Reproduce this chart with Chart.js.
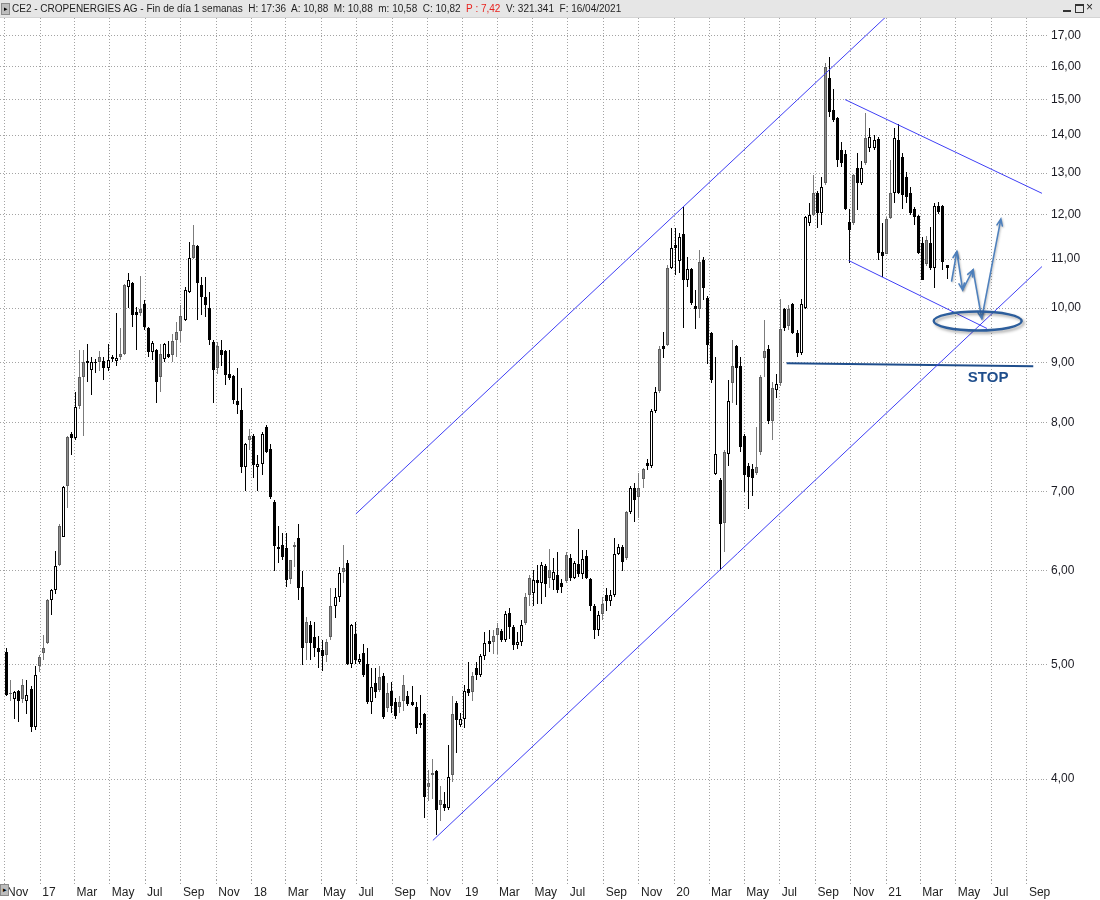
<!DOCTYPE html>
<html>
<head>
<meta charset="utf-8">
<script src="https://cdn.jsdelivr.net/npm/chart.js@4.4.1/dist/chart.umd.min.js"></script>
<style>
    html, body { margin: 0; padding: 0; background: #fff; }
    #wrap { position: relative; width: 1100px; height: 900px; overflow: hidden; font-family: "Liberation Sans", Arial, sans-serif; }
    #chart { position: absolute; left: 0; top: 0; }
    #hdr { position: absolute; left: 0; top: 0; width: 1100px; height: 17px; background: #e6e6e6; border-bottom: 1px solid #d4d4d4;
           font-size: 10px; line-height: 17px; color: #1e1e1e; white-space: pre; }
    #hdr .txt { position: absolute; left: 12px; top: 0; }
    #hdr .red { color: #e8231f; }
    .ico { position: absolute; width: 7px; height: 10px; background: #bdbdbd; border: 1px solid #8a8a8a; font-size: 7px; line-height: 10px; text-align: center; color: #000; }
    .btn { position: absolute; top: 4px; width: 8px; height: 8px; }
</style>
</head>
<body>
<div id="wrap">
    <canvas id="chart" width="1100" height="900"></canvas>
    <div id="hdr">
        <span class="ico" style="left:1px;top:3px;">&#9656;</span>
        <span class="txt">CE2 - CROPENERGIES AG - Fin de día 1 semanas  H: 17:36  A: 10,88  M: 10,88  m: 10,58  C: 10,82  <span class="red">P : 7,42</span>  V: 321.341  F: 16/04/2021</span>
        <span class="btn" style="left:1063px;border-bottom:2px solid #333;height:6px;"></span>
        <span class="btn" style="left:1075px;border:1px solid #333;border-top-width:2px;width:7px;height:6px;"></span>
        <span class="btn" style="left:1086px;font-size:12px;line-height:8px;top:3px;color:#222;">&#215;</span>
    </div>
    <span class="ico" style="left:0;top:884px;">&#9656;</span>
</div>
<script>
// --- weekly candles, first week ending 04/11/2016 ---
const firstWeek = '2016-11-04';

const opens = [
    5.12,4.72,4.67,4.75,4.67,4.66,4.77,4.43,4.98,5.11,
    5.21,5.67,5.78,6.07,6.41,7.07,7.83,7.76,8.26,8.75,
    8.98,8.86,8.98,9.01,9.02,8.90,9.10,9.02,9.09,9.15,
    10.42,10.50,9.92,9.90,10.08,9.62,9.18,9.22,8.74,9.05,
    9.15,9.12,9.40,9.56,9.77,10.32,11.03,11.28,10.46,10.22,
    10.00,9.36,8.90,9.22,9.20,8.80,8.76,8.34,8.20,7.34,
    7.74,7.80,7.34,7.38,7.94,7.60,6.86,6.28,6.31,6.27,
    5.90,6.28,6.39,5.81,5.21,5.40,5.27,5.16,5.14,5.09,
    5.27,5.60,5.70,5.98,6.09,5.00,5.30,5.02,5.11,5.00,
    4.65,4.82,4.76,4.89,4.59,4.75,4.65,4.60,4.66,4.70,
    4.65,4.60,4.46,4.54,3.94,4.03,4.06,3.80,3.81,3.78,
    4.03,4.64,4.44,4.50,4.77,4.74,4.96,4.90,5.08,5.23,
    5.22,5.29,5.34,5.24,5.53,5.38,5.19,5.22,5.42,5.72,
    5.74,5.89,5.86,6.06,5.91,5.89,5.95,5.86,5.88,6.15,
    5.92,6.08,5.96,6.17,5.90,5.60,5.35,5.52,5.72,5.66,
    5.72,6.20,6.28,6.15,6.72,7.04,6.93,7.17,7.40,7.35,
    8.18,8.51,9.29,9.31,10.81,11.30,10.96,11.56,10.56,10.79,
    10.04,9.99,10.98,10.20,9.53,7.24,7.15,6.58,7.53,8.65,
    9.28,8.93,7.80,7.35,7.31,7.26,7.56,9.08,9.23,8.03,
    8.52,8.65,9.98,9.66,10.08,9.53,9.17,10.00,11.80,11.99,
    12.51,12.03,12.75,15.64,14.70,14.48,13.60,13.50,11.83,11.80,
    13.13,12.75,13.26,13.65,13.65,13.89,11.16,11.10,11.91,12.51,
    13.87,13.42,12.90,12.51,12.12,11.95,11.35,10.90,11.35,10.81,
    12.20,12.20,10.88
];

const highs = [
    5.16,4.85,4.75,4.76,4.86,4.85,4.79,4.98,5.09,5.29,
    5.68,5.79,6.23,6.57,7.08,7.80,7.85,8.50,9.22,9.22,
    9.33,9.10,9.05,9.20,9.10,9.32,9.12,9.90,9.62,10.48,
    10.71,10.52,10.02,10.64,10.16,9.64,9.37,9.24,9.32,9.34,
    9.38,9.50,9.74,10.06,10.42,11.37,11.76,11.30,10.62,10.62,
    10.32,9.40,9.36,9.40,9.22,9.22,8.78,8.90,8.56,7.69,
    7.90,7.82,7.52,7.85,7.96,7.67,6.88,6.55,6.46,6.46,
    6.13,6.34,6.57,5.99,5.48,5.44,5.43,5.28,5.24,5.25,
    5.80,5.80,6.04,6.31,6.12,5.41,5.43,5.10,5.20,5.16,
    4.96,4.96,4.98,4.92,4.82,4.83,4.68,4.70,4.90,4.75,
    4.79,4.65,4.71,4.55,4.07,4.16,4.07,3.95,3.90,4.27,
    4.70,4.66,4.55,4.80,5.02,4.93,5.02,5.10,5.33,5.35,
    5.35,5.42,5.36,5.55,5.58,5.40,5.32,5.45,5.75,5.95,
    6.01,6.07,6.10,6.08,6.26,6.15,6.22,5.90,6.22,6.20,
    6.11,6.50,6.25,6.25,5.92,5.62,5.55,5.70,5.80,5.78,
    6.39,6.32,6.31,6.74,7.08,7.12,7.26,7.33,7.45,8.22,
    8.58,9.28,9.55,10.88,11.68,11.68,11.58,12.17,11.05,10.82,
    10.36,11.19,11.05,10.24,9.55,9.10,7.19,7.58,8.69,9.40,
    9.30,9.10,7.82,7.40,7.38,7.94,8.78,9.77,9.31,8.66,
    8.80,10.18,10.00,10.05,10.10,9.58,10.18,11.95,12.26,12.95,
    12.55,12.90,16.10,16.30,15.30,14.50,13.80,13.60,12.13,12.97,
    13.52,13.30,14.61,14.20,14.00,13.95,11.80,11.93,13.34,14.20,
    14.30,13.52,13.02,12.66,12.17,11.98,11.48,11.50,11.70,12.27,
    12.30,12.22,10.88
];

const lows = [
    4.70,4.66,4.50,4.47,4.64,4.54,4.38,4.40,4.93,5.04,
    5.20,5.50,5.73,6.05,6.40,6.78,7.52,7.74,8.22,7.80,
    8.66,8.45,8.82,8.85,8.70,8.85,9.00,8.93,9.04,9.12,
    10.00,9.64,9.22,9.85,9.58,9.10,9.04,8.31,8.49,9.00,
    9.08,9.00,9.10,9.36,9.75,10.30,11.00,9.77,9.86,9.82,
    9.30,8.31,8.80,8.93,8.61,8.70,8.30,8.14,7.26,7.00,
    7.58,7.18,7.00,7.22,7.55,6.90,5.99,6.09,6.12,5.81,
    5.85,6.04,5.67,4.99,5.04,5.04,5.07,4.96,4.94,5.02,
    5.24,5.47,5.65,5.86,4.99,4.96,5.00,5.00,4.88,4.63,
    4.54,4.68,4.74,4.50,4.56,4.55,4.50,4.55,4.57,4.61,
    4.61,4.37,4.42,3.71,3.83,3.85,3.59,3.69,3.76,3.77,
    3.98,4.21,4.43,4.42,4.70,4.66,4.85,4.88,5.04,5.12,
    5.10,5.10,5.22,5.22,5.25,5.14,5.15,5.18,5.40,5.60,
    5.60,5.62,5.62,5.70,5.80,5.78,5.75,5.75,5.86,5.88,
    5.90,5.93,5.90,5.90,5.55,5.25,5.28,5.45,5.55,5.60,
    5.70,6.18,5.99,6.12,6.70,6.60,6.65,7.04,7.30,7.33,
    8.15,8.48,9.07,9.28,10.78,10.67,10.71,9.62,10.42,10.05,
    9.60,9.80,10.16,8.97,8.65,7.22,6.01,6.22,7.36,8.31,
    8.28,7.56,6.99,6.77,6.94,7.22,7.52,8.75,7.98,7.74,
    8.40,8.60,9.56,9.58,9.50,9.10,9.13,9.98,11.73,11.95,
    11.68,11.75,12.70,14.50,14.35,13.15,13.15,12.10,10.92,11.75,
    12.10,12.70,13.20,13.55,13.60,10.98,10.62,11.10,11.88,12.27,
    12.48,12.13,12.27,11.98,11.75,11.10,10.56,10.85,10.77,10.40,
    12.00,10.77,10.58
];

const closes = [
    4.71,4.73,4.74,4.66,4.80,4.71,4.43,4.90,5.07,5.16,
    5.67,5.78,6.06,6.55,7.06,7.78,7.76,8.25,8.74,9.00,
    9.02,9.00,9.00,9.10,8.90,9.03,9.06,9.08,9.14,10.46,
    10.56,9.86,9.86,9.98,9.64,9.18,9.34,8.66,9.14,9.32,
    9.10,9.38,9.55,9.85,10.36,11.02,11.30,10.50,10.22,10.06,
    9.40,8.86,9.28,9.12,8.78,8.72,8.36,8.28,7.34,7.67,
    7.80,7.37,7.38,7.83,7.56,6.92,6.30,6.26,6.16,5.89,
    6.12,6.31,5.80,5.16,5.43,5.21,5.16,5.12,5.08,5.22,
    5.60,5.70,5.97,6.03,5.00,5.40,5.04,5.05,4.90,4.65,
    4.78,4.74,4.88,4.51,4.73,4.61,4.52,4.65,4.80,4.63,
    4.62,4.42,4.44,3.86,3.97,4.05,3.77,3.84,3.78,4.02,
    4.54,4.49,4.50,4.75,4.73,4.89,4.90,5.08,5.21,5.20,
    5.28,5.37,5.24,5.52,5.38,5.19,5.22,5.40,5.70,5.91,
    5.89,5.86,6.07,5.85,6.01,5.98,5.78,5.81,6.19,5.92,
    6.09,5.96,6.14,5.92,5.60,5.35,5.50,5.62,5.66,5.72,
    6.20,6.28,6.10,6.72,7.04,6.88,7.04,7.31,7.35,8.18,
    8.50,9.24,9.24,10.81,11.23,11.23,11.48,10.56,10.79,10.10,
    9.98,10.94,10.40,9.30,8.69,7.53,6.57,7.56,8.35,8.93,
    8.90,7.63,7.22,7.20,7.19,7.34,8.75,9.20,8.02,8.56,
    8.63,9.60,9.62,9.98,9.53,9.17,10.08,11.93,11.98,12.51,
    12.03,12.66,15.97,14.64,14.42,13.34,13.26,12.13,11.64,12.95,
    12.75,13.13,13.92,13.95,13.87,11.14,11.07,11.90,12.51,13.92,
    12.51,12.46,12.41,12.03,11.93,11.14,10.56,11.41,10.81,12.20,
    12.06,10.94,10.82
];

// --- axis ticks ---
const tickDates = [
    '2016-11-01','2017-01-01','2017-03-01','2017-05-01','2017-07-01','2017-09-01',
    '2017-11-01','2018-01-01','2018-03-01','2018-05-01','2018-07-01','2018-09-01',
    '2018-11-01','2019-01-01','2019-03-01','2019-05-01','2019-07-01','2019-09-01',
    '2019-11-01','2020-01-01','2020-03-01','2020-05-01','2020-07-01','2020-09-01',
    '2020-11-01','2021-01-01','2021-03-01','2021-05-01','2021-07-01','2021-09-01'
];
const tickLabels = [
    'Nov','17','Mar','May','Jul','Sep','Nov','18','Mar','May','Jul','Sep',
    'Nov','19','Mar','May','Jul','Sep','Nov','20','Mar','May','Jul','Sep',
    'Nov','21','Mar','May','Jul','Sep'
];
const priceTicks = [4, 5, 6, 7, 8, 9, 10, 11, 12, 13, 14, 15, 16, 17];

// --- hand drawn analysis (date, price) ---
const channelUpper = [['2018-06-30', 6.70], ['2021-01-02', 17.65]];
const channelLower = [['2018-11-10', 3.55], ['2021-09-27', 10.84]];
const wedgeUpper = [['2020-10-22', 15.00], ['2021-09-27', 12.50]];
const wedgeLower = [['2020-10-28', 10.97], ['2021-06-24', 9.61]];
const stopLine = [['2020-07-13', 8.98], ['2021-09-12', 8.93]];
const forecastPath = [['2021-04-24', 10.54], ['2021-05-03', 11.16], ['2021-05-13', 10.36],
                      ['2021-05-31', 10.77], ['2021-06-15', 9.80], ['2021-07-18', 11.89]];
const targetZone = ['2021-06-08', 9.75];
const stopLabel = ['STOP', '2021-06-26', 8.73];

const dayOf = s => Date.parse(s + 'T00:00:00Z') / 86400000;
const day0 = dayOf(firstWeek);
const weekX = i => day0 + 7 * i;

const GRID = '#a3a3a3';
const FONT = { family: '"Liberation Sans", Arial, sans-serif', size: 12 };

function candleKind(i) {
    if (closes[i] < opens[i]) return 'down';
    const prev = i > 0 ? closes[i - 1] : opens[i];
    return opens[i] > prev ? 'gray' : 'up';
}
const FILL = { up: '#ffffff', gray: '#8d8d8d', down: '#000000' };
const EDGE = { up: '#000000', gray: '#5e5e5e', down: '#000000' };
const WICK = { up: '#000000', gray: '#7c7c7c', down: '#000000' };

const wickData = opens.map((o, i) => ({ x: weekX(i), y: [lows[i], highs[i]] }));
const bodyData = opens.map((o, i) => ({ x: weekX(i), y: [Math.min(o, closes[i]), Math.max(o, closes[i])] }));

const lineSet = (pts, color, width) => ({
    type: 'line',
    data: pts.map(p => ({ x: dayOf(p[0]), y: p[1] })),
    borderColor: color,
    borderWidth: width,
    pointRadius: 0,
    fill: false,
    tension: 0,
    order: 0
});

// keep the thin candles on whole pixels so they stay sharp
const snapPlugin = {
    id: 'snap',
    beforeDatasetsDraw(chart) {
        chart.getSortedVisibleDatasetMetas().forEach(meta => {
            if (meta.type !== 'bar') return;
            meta.data.forEach(el => {
                el.x = Math.floor(el.x) + 0.5;
                el.y = Math.round(el.y);
                el.base = Math.round(el.base);
                if (el.base - el.y < 1) el.base = el.y + 1;
            });
        });
    }
};

// ellipse, arrows and the STOP note
const sketchPlugin = {
    id: 'sketch',
    afterDatasetsDraw(chart) {
        const { ctx, chartArea, scales: { x, y } } = chart;
        const px = p => [x.getPixelForValue(dayOf(p[0])), y.getPixelForValue(p[1])];
        ctx.save();
        ctx.beginPath();
        ctx.rect(chartArea.left, chartArea.top, chartArea.width, chartArea.height);
        ctx.clip();

        // forecast zig-zag
        ctx.shadowColor = 'rgba(0,0,0,0.25)';
        ctx.shadowBlur = 2;
        ctx.shadowOffsetX = 1;
        ctx.shadowOffsetY = 1;
        ctx.strokeStyle = '#4f81bd';
        ctx.lineWidth = 1.6;
        ctx.lineCap = 'round';
        const pts = forecastPath.map(px);
        for (let i = 1; i < pts.length; i++) {
            const [x0, y0] = pts[i - 1];
            const [x1, y1] = pts[i];
            ctx.beginPath();
            ctx.moveTo(x0, y0);
            ctx.lineTo(x1, y1);
            const a = Math.atan2(y1 - y0, x1 - x0);
            ctx.moveTo(x1 - 7 * Math.cos(a - 0.4), y1 - 7 * Math.sin(a - 0.4));
            ctx.lineTo(x1, y1);
            ctx.lineTo(x1 - 7 * Math.cos(a + 0.4), y1 - 7 * Math.sin(a + 0.4));
            ctx.stroke();
        }

        // target ellipse
        const [ex, ey] = px(targetZone);
        ctx.shadowColor = 'rgba(0,0,0,0.35)';
        ctx.shadowBlur = 3;
        ctx.shadowOffsetX = 2;
        ctx.shadowOffsetY = 2;
        ctx.strokeStyle = '#2d5e9c';
        ctx.lineWidth = 2.4;
        ctx.beginPath();
        ctx.ellipse(ex, ey, 44, 9.5, 0, 0, Math.PI * 2);
        ctx.stroke();

        // STOP
        ctx.shadowColor = 'transparent';
        const [sx, sy] = px([stopLabel[1], stopLabel[2]]);
        ctx.fillStyle = '#1f4e8c';
        ctx.font = 'bold 15px "Liberation Sans", Arial, sans-serif';
        ctx.textAlign = 'center';
        ctx.textBaseline = 'middle';
        ctx.fillText(stopLabel[0], sx, sy);
        ctx.restore();
    }
};

new Chart(document.getElementById('chart'), {
    type: 'bar',
    data: {
        datasets: [
            {
                data: wickData,
                grouped: false,
                barThickness: 1,
                borderWidth: 0,
                inflateAmount: 0,
                backgroundColor: c => WICK[candleKind(c.dataIndex)],
                order: 2
            },
            {
                data: bodyData,
                grouped: false,
                barThickness: 3,
                borderWidth: 1,
                borderSkipped: false,
                inflateAmount: 0,
                minBarLength: 1,
                backgroundColor: c => FILL[candleKind(c.dataIndex)],
                borderColor: c => EDGE[candleKind(c.dataIndex)],
                order: 1
            },
            lineSet(channelUpper, '#3f3ff5', 1),
            lineSet(channelLower, '#3f3ff5', 1),
            lineSet(wedgeUpper, '#3f3ff5', 1),
            lineSet(wedgeLower, '#3f3ff5', 1),
            lineSet(stopLine, '#1f4e8c', 2)
        ]
    },
    options: {
        responsive: false,
        animation: false,
        events: [],
        layout: { padding: { top: 18, left: 0, right: 0, bottom: 0 } },
        plugins: { legend: { display: false }, tooltip: { enabled: false } },
        scales: {
            x: {
                type: 'linear',
                min: day0 - 11.6,
                max: day0 + 1789.8,
                offset: false,
                grid: { color: GRID, offset: false, tickLength: 4, tickBorderDash: [1, 2] },
                border: { display: false, dash: [1, 2] },
                ticks: {
                    autoSkip: false, maxRotation: 0, align: 'start', labelOffset: 2, padding: 1,
                    color: '#222', font: FONT,
                    callback: (v, i) => tickLabels[i]
                },
                afterBuildTicks: s => { s.ticks = tickDates.map(d => ({ value: dayOf(d) })); },
                afterFit: s => { s.height = 20; s.paddingLeft = 0; s.paddingRight = 0; }
            },
            y: {
                type: 'logarithmic',
                position: 'right',
                min: 3.287,
                max: 17.58,
                grid: { color: GRID, tickLength: 5, tickBorderDash: [1, 2] },
                border: { display: false, dash: [1, 2] },
                ticks: {
                    autoSkip: false, padding: 3, color: '#1c1c24', font: FONT,
                    callback: v => Number(v).toFixed(2).replace('.', ',')
                },
                afterBuildTicks: s => { s.ticks = priceTicks.map(v => ({ value: v })); },
                afterFit: s => { s.width = 57; s.paddingTop = 0; s.paddingBottom = 0; }
            }
        }
    },
    plugins: [snapPlugin, sketchPlugin]
});
</script>
</body>
</html>
